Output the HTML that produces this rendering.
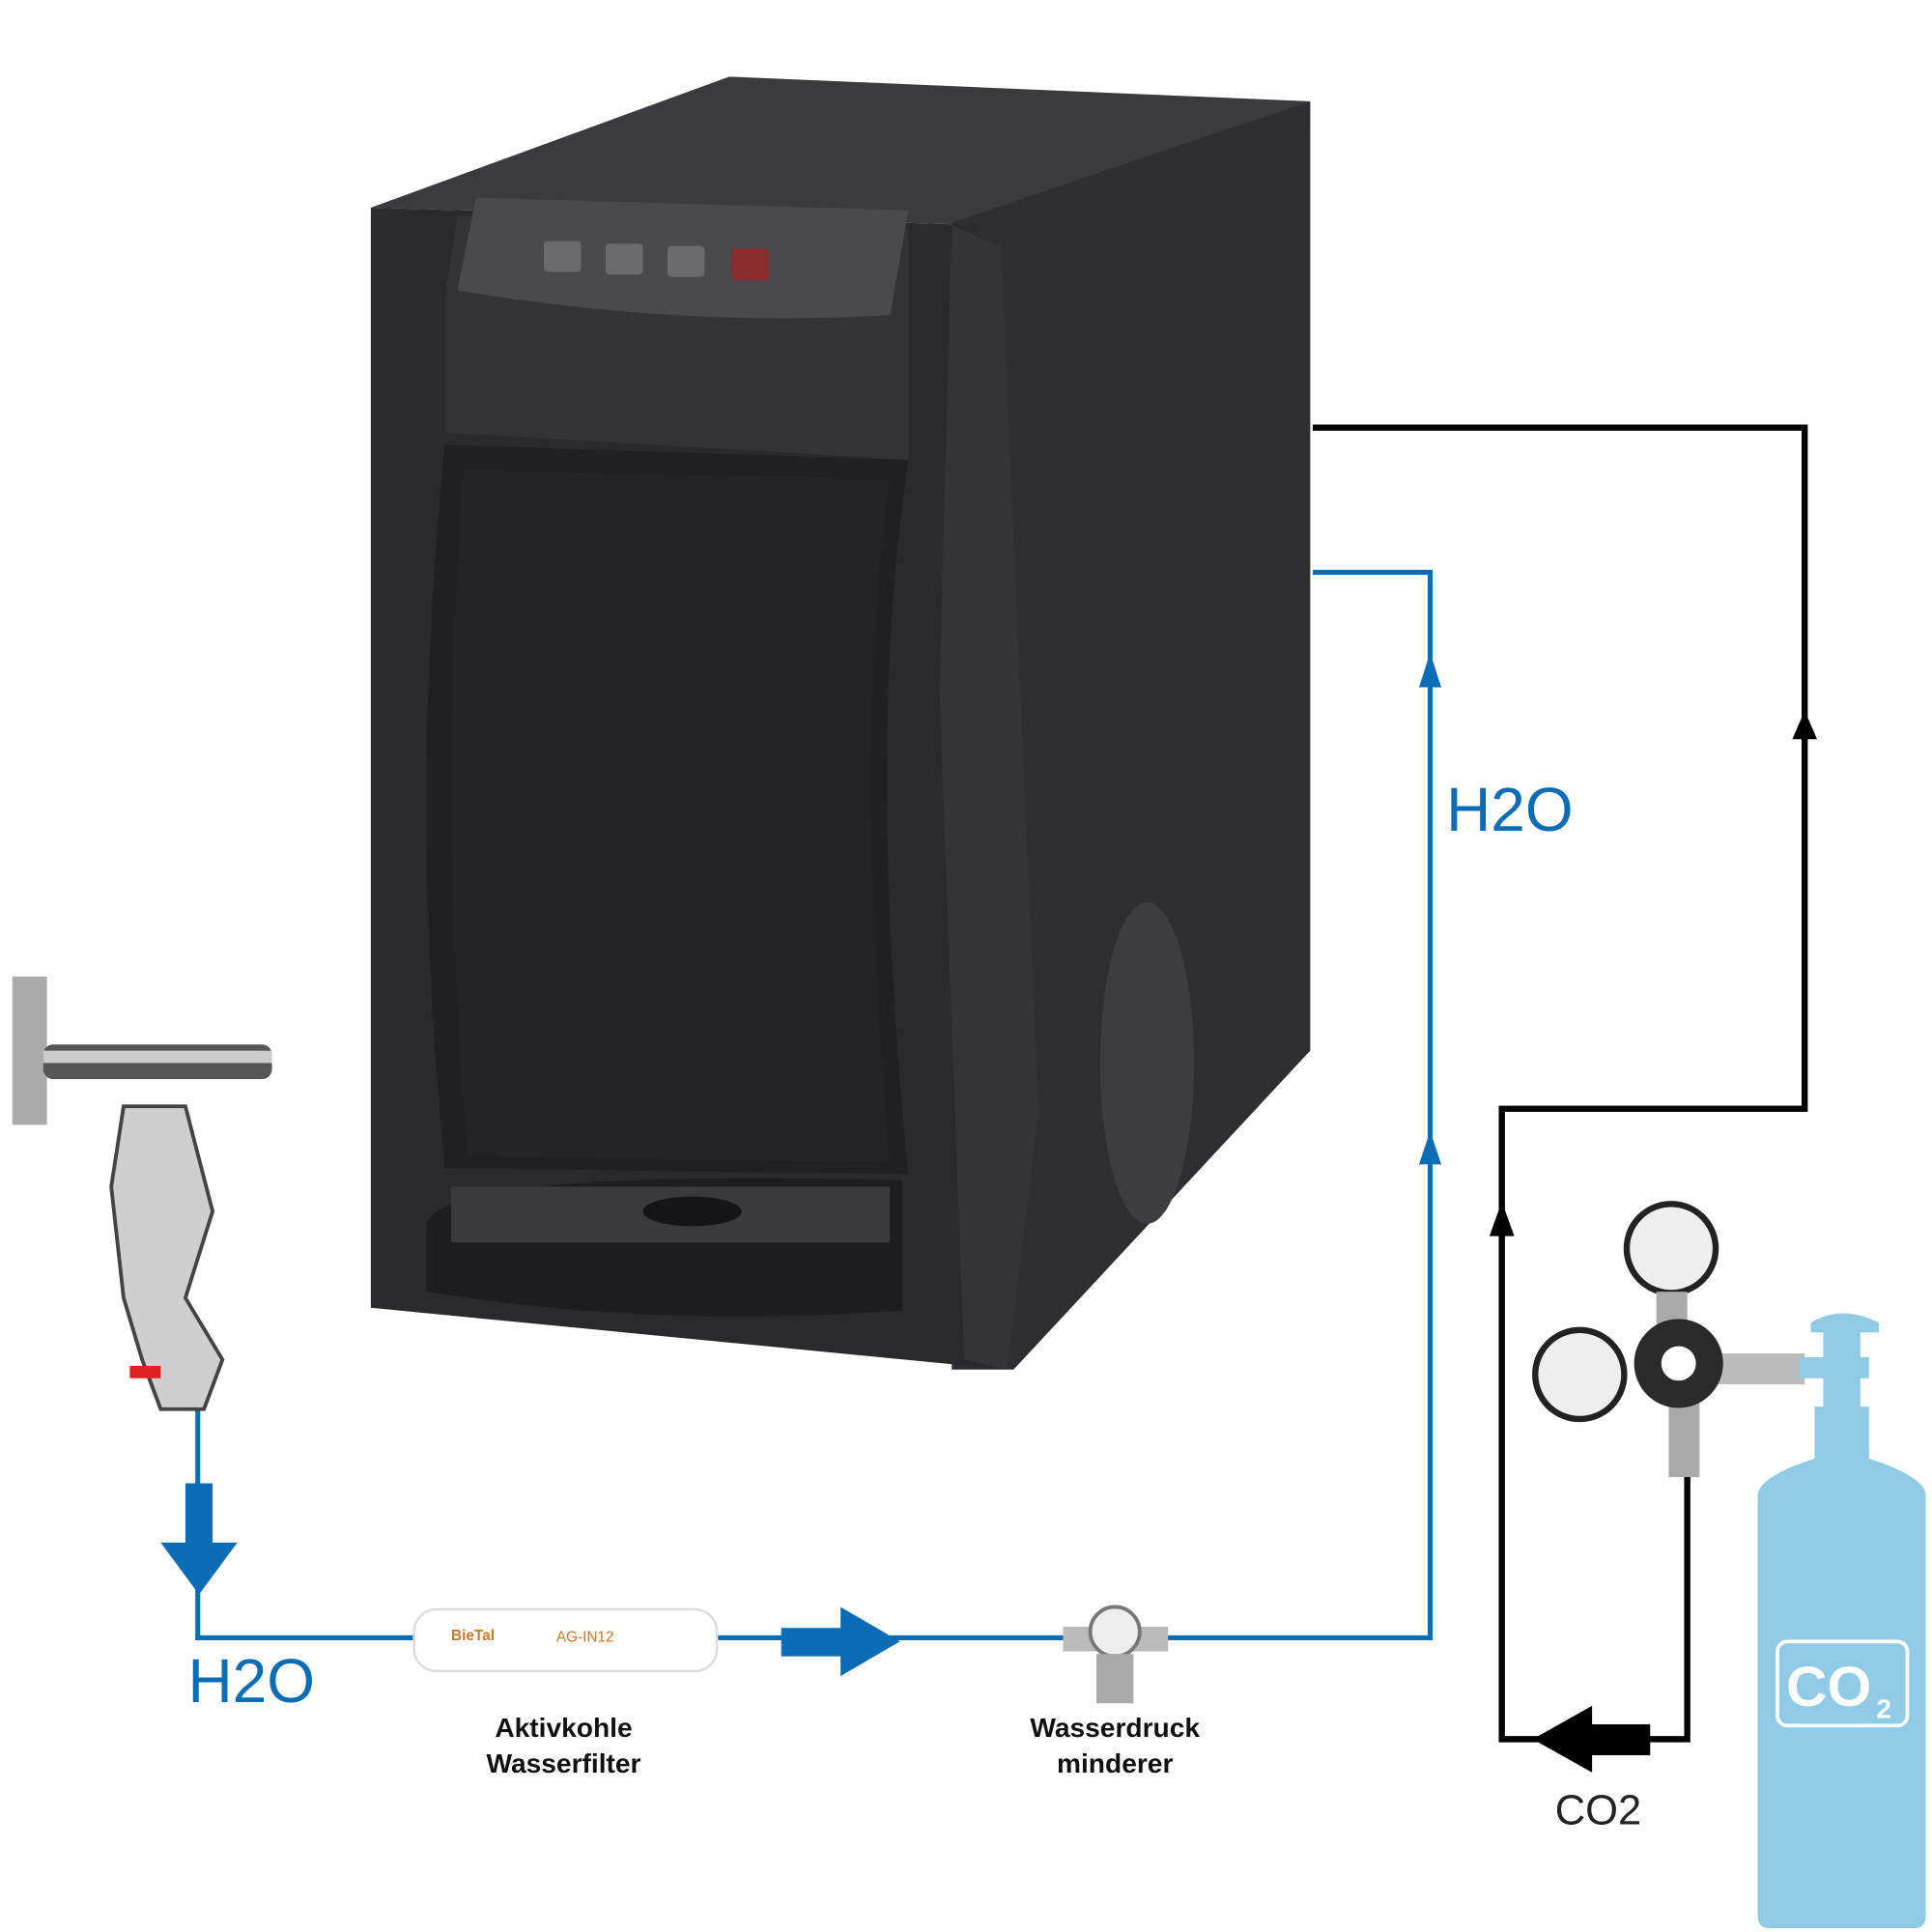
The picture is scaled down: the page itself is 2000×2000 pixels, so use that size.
<!DOCTYPE html>
<html><head><meta charset="utf-8"><style>
html,body{margin:0;padding:0;background:#fff;}
svg{display:block;}
</style></head><body>
<svg width="2000" height="2000" viewBox="0 0 1563 1563" xmlns="http://www.w3.org/2000/svg">
<rect width="1563" height="1563" fill="#fff"/>
<!-- Machine -->
<polygon points="300,168 590,62 1060,82 790,182" fill="#3b3b3e"/>
<polygon points="770,180 1060,82 1060,850 820,1108 770,1108" fill="#2e2e31"/>
<polygon points="300,168 790,182 815,1108 300,1058" fill="#2a2a2c"/>
<polygon points="770,182 810,200 840,900 815,1108 780,1100 760,560" fill="#343437"/>
<path d="M360,360 L735,372 Q700,600 735,950 L360,945 Q330,650 360,360Z" fill="#202022"/>
<path d="M375,380 L720,388 Q690,600 720,940 L378,935 Q355,650 375,380Z" fill="#242426"/>
<polygon points="370,175 735,185 735,372 360,350 360,240" fill="#333336"/>
<path d="M385,160 L735,170 L720,255 Q550,265 370,235Z" fill="#4a4a4d"/>
<rect x="440" y="195" width="30" height="25" rx="3" fill="#6b6b6e"/>
<rect x="490" y="197" width="30" height="25" rx="3" fill="#6b6b6e"/>
<rect x="540" y="199" width="30" height="25" rx="3" fill="#6b6b6e"/>
<rect x="592" y="201" width="30" height="26" rx="3" fill="#8a2b2e"/>
<path d="M345,990 Q360,945 730,955 L730,1060 Q530,1075 345,1045Z" fill="#1d1d1f"/>
<rect x="365" y="960" width="355" height="45" fill="#3a3a3d"/>
<ellipse cx="560" cy="980" rx="40" ry="12" fill="#151517"/>
<ellipse cx="928" cy="860" rx="38" ry="130" fill="#3d3d40"/>
<!-- Black CO2 line -->
<polyline points="1062,346 1460,346 1460,897 1215,897 1215,1407 1365,1407 1365,1192" fill="none" stroke="#000" stroke-width="5"/>
<polygon points="1460,575 1450,598 1470,598" fill="#000"/>
<polygon points="1215,972 1205,1000 1225,1000" fill="#000"/>
<polygon points="1240,1407 1288,1380 1288,1395 1335,1395 1335,1420 1288,1420 1288,1434" fill="#000"/>
<!-- Blue water line -->
<polyline points="160,1140 160,1325 1157,1325 1157,463 1062,463" fill="none" stroke="#0b6db5" stroke-width="4"/>
<polygon points="1157,528 1148,556 1166,556" fill="#0b6db5"/>
<polygon points="1157,915 1148,942 1166,942" fill="#0b6db5"/>
<polygon points="150,1200 172,1200 172,1248 192,1248 161,1290 130,1248 150,1248" fill="#0b6db5"/>
<polygon points="632,1317 680,1317 680,1300 728,1328 680,1356 680,1340 632,1340" fill="#0b6db5"/>
<!-- Filter -->
<rect x="335" y="1302" width="245" height="50" rx="18" fill="#fff" stroke="#ddd" stroke-width="2"/>
<text x="365" y="1327" font-family="Liberation Sans,sans-serif" font-size="12" font-weight="bold" fill="#c77a2a">BieTal</text>
<text x="450" y="1328" font-family="Liberation Sans,sans-serif" font-size="12" fill="#c77a2a">AG-IN12</text>
<!-- Pressure reducer -->
<rect x="860" y="1316" width="85" height="20" fill="#bbb"/>
<circle cx="902" cy="1320" r="20" fill="#eee" stroke="#777" stroke-width="3"/>
<rect x="887" y="1338" width="30" height="40" fill="#aaa"/>
<!-- Tap -->
<rect x="10" y="790" width="28" height="120" fill="#aaa"/>
<rect x="35" y="845" width="185" height="28" rx="8" fill="#555"/>
<rect x="35" y="850" width="185" height="10" fill="#ccc"/>
<path d="M100,895 L150,895 L172,980 L150,1050 L180,1100 L165,1140 L130,1140 L115,1100 L100,1050 L90,960Z" fill="#cfcfcf" stroke="#444" stroke-width="3"/>
<rect x="105" y="1105" width="25" height="10" fill="#d22"/>
<!-- Gauges -->
<circle cx="1352" cy="1010" r="36" fill="#eee" stroke="#222" stroke-width="5"/>
<circle cx="1278" cy="1112" r="36" fill="#eee" stroke="#222" stroke-width="5"/>
<rect x="1340" y="1045" width="25" height="30" fill="#aaa"/>
<rect x="1380" y="1095" width="80" height="25" fill="#bbb"/>
<rect x="1350" y="1135" width="25" height="60" fill="#aaa"/>
<circle cx="1358" cy="1103" r="36" fill="#2a2a2a"/>
<circle cx="1358" cy="1103" r="14" fill="#fff"/>
<!-- CO2 bottle -->
<path d="M1465,1070 Q1490,1055 1520,1070 L1520,1078 L1505,1078 L1505,1098 L1512,1098 L1512,1115 L1505,1115 L1505,1138 L1512,1138 L1512,1180 Q1558,1195 1558,1210 L1558,1550 Q1558,1560 1548,1560 L1432,1560 Q1422,1560 1422,1550 L1422,1210 Q1422,1195 1468,1180 L1468,1138 L1475,1138 L1475,1115 L1455,1115 L1455,1098 L1475,1098 L1475,1078 L1465,1078Z" fill="#8fcbe4"/>
<rect x="1438" y="1328" width="105" height="68" rx="8" fill="none" stroke="#fff" stroke-width="3"/>
<text x="1445" y="1380" font-family="Liberation Sans,sans-serif" font-size="46" font-weight="bold" fill="#fff">CO</text>
<text x="1518" y="1390" font-family="Liberation Sans,sans-serif" font-size="22" font-weight="bold" fill="#fff">2</text>
<!-- Labels -->
<text x="1170" y="672" font-family="Liberation Sans,sans-serif" font-size="50" fill="#0b6db5">H2O</text>
<text x="152" y="1377" font-family="Liberation Sans,sans-serif" font-size="50" fill="#0b6db5">H2O</text>
<text x="1258" y="1476" font-family="Liberation Sans,sans-serif" font-size="34" fill="#222">CO2</text>
<g font-family="Liberation Sans,sans-serif" font-size="22" font-weight="bold" fill="#111" text-anchor="middle">
<text x="456" y="1405">Aktivkohle</text><text x="456" y="1434">Wasserfilter</text>
<text x="902" y="1405">Wasserdruck</text><text x="902" y="1434">minderer</text>
</g>
</svg>
</body></html>
